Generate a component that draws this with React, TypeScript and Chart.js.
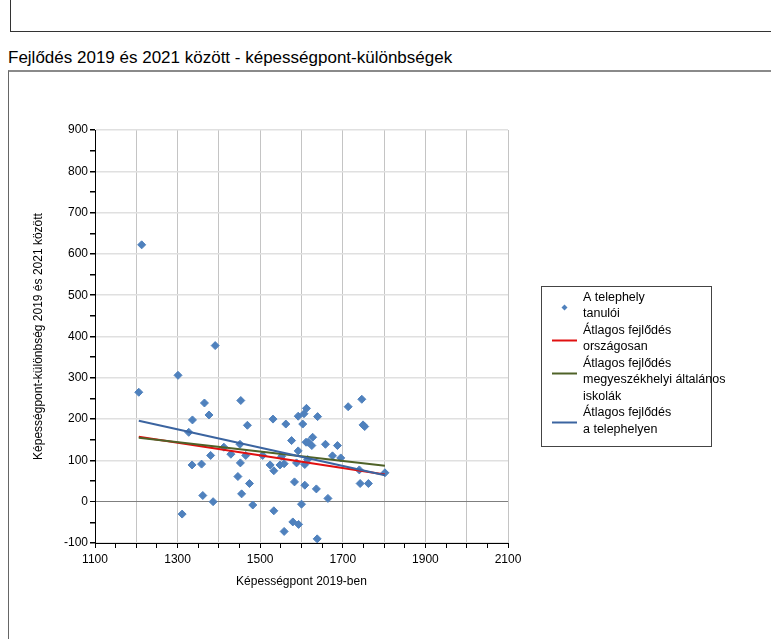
import React, { useEffect, useRef } from "react";
import { Chart, registerables } from "chart.js";

Chart.register(...registerables);

// ---- data ----
const studentX = [
  1213, 1206, 1301, 1391, 1365, 1376, 1453, 1336, 1327, 1469,
  1412, 1451, 1380, 1429, 1465, 1335, 1358, 1452, 1446, 1474,
  1455, 1361, 1386, 1482, 1311, 1533, 1558, 1579, 1593, 1600,
  1608, 1583, 1524, 1533, 1548, 1558, 1588, 1608, 1592, 1576,
  1611, 1616, 1531, 1562, 1592, 1603, 1606, 1612, 1639, 1627,
  1625, 1636, 1664, 1638, 1658, 1687, 1675, 1695, 1713, 1746,
  1749, 1753, 1742, 1762, 1740, 1802, 1506, 1552, 1615,
];
const studentY = [
  622, 265, 306, 378, 239, 210, 245, 198, 168, 185,
  132, 139, 112, 115, 112, 89, 91, 94, 61, 44,
  19, 15, 0, -8, -30, -22, -72, -49, -55, -6,
  40, 48, 89, 75, 89, 92, 94, 90, 123, 148,
  144, 144, 200, 188, 207, 188, 213, 226, 206, 156,
  136, 31, 8, -90, 139, 136, 111, 106, 230, 248,
  186, 182, 44, 44, 77, 70, 112, 110, 102,
];
const trendX = [1206, 1802];
const nationalY = [157, 66];
const countyY = [155, 87];
const siteY = [196, 64];

const xTickLabels = [1100, 1300, 1500, 1700, 1900, 2100];
const yTickLabels = [-100, 0, 100, 200, 300, 400, 500, 600, 700, 800, 900];

const titleText = "Fejlődés 2019 és 2021 között - képességpont-különbségek";
const xAxisTitle = "Képességpont 2019-ben";
const yAxisTitle = "Képességpont-különbség 2019 és 2021 között";

const legendLabels = [
  ["A telephely", "tanulói"],
  ["Átlagos fejlődés", "országosan"],
  ["Átlagos fejlődés", "megyeszékhelyi általános", "iskolák"],
  ["Átlagos fejlődés", "a telephelyen"],
];

const FONT = "'Liberation Sans', Arial, sans-serif";
const POINT_COLOR = "#4f81bd";
const RED = "#e01010";
const GREEN = "#4f6228";
const BLUE = "#3b64a0";
const legendColors = [POINT_COLOR, RED, GREEN, BLUE];

const legendPlugin = {
  id: "customLegend",
  afterDraw(chart: any) {
    const ctx = chart.ctx as CanvasRenderingContext2D;
    ctx.save();
    const left = 541.5;
    const top = 286.5;
    const right = 711.5;
    const bottom = 446.5;
    ctx.strokeStyle = "#444";
    ctx.lineWidth = 1;
    ctx.strokeRect(left, top, right - left, bottom - top);
    ctx.font = `12.5px ${FONT}`;
    ctx.fillStyle = "#000";
    ctx.textBaseline = "middle";
    ctx.textAlign = "left";
    const lh = 16.5;
    let y = 297.5;
    legendLabels.forEach((lines, i) => {
      const symY = Math.round(y + lh / 2 + 1) + 0.5;
      if (i === 0) {
        ctx.fillStyle = legendColors[0];
        ctx.beginPath();
        ctx.moveTo(564.5, symY - 3);
        ctx.lineTo(567.5, symY);
        ctx.lineTo(564.5, symY + 3);
        ctx.lineTo(561.5, symY);
        ctx.closePath();
        ctx.fill();
      } else {
        ctx.strokeStyle = legendColors[i];
        ctx.lineWidth = 2;
        ctx.beginPath();
        ctx.moveTo(552, symY);
        ctx.lineTo(577, symY);
        ctx.stroke();
      }
      ctx.fillStyle = "#000";
      lines.forEach((t) => {
        ctx.fillText(t, 583, y);
        y += lh;
      });
    });
    ctx.restore();
  },
};

function gridColor(ctx: any, vertical: boolean) {
  const v = ctx.tick ? ctx.tick.value : 0;
  if (Math.round(v) % 100 !== 0) return "rgba(0,0,0,0)";
  if (!vertical && v === 0) return "#7f7f7f";
  return vertical ? "#c4c4c4" : "#e0e0e0";
}

export default function App() {
  const canvasRef = useRef<HTMLCanvasElement | null>(null);

  useEffect(() => {
    if (!canvasRef.current) return;
    const pts = studentX.map((x, i) => ({ x, y: studentY[i] }));
    const line = (ys: number[]) => trendX.map((x, i) => ({ x, y: ys[i] }));
    const chart = new Chart(canvasRef.current, {
      type: "scatter",
      data: {
        datasets: [
          {
            label: legendLabels[3].join(" "),
            type: "line",
            data: line(siteY),
            borderColor: BLUE,
            backgroundColor: BLUE,
            borderWidth: 2,
            pointRadius: 0,
            showLine: true,
            order: 0,
          } as any,
          {
            label: legendLabels[2].join(" "),
            type: "line",
            data: line(countyY),
            borderColor: GREEN,
            backgroundColor: GREEN,
            borderWidth: 2,
            pointRadius: 0,
            showLine: true,
            order: 1,
          } as any,
          {
            label: legendLabels[1].join(" "),
            type: "line",
            data: line(nationalY),
            borderColor: RED,
            backgroundColor: RED,
            borderWidth: 2,
            pointRadius: 0,
            showLine: true,
            order: 2,
          } as any,
          {
            label: legendLabels[0].join(" "),
            data: pts,
            pointStyle: "rectRot",
            pointRadius: 4,
            pointBorderWidth: 1,
            pointBackgroundColor: POINT_COLOR,
            pointBorderColor: POINT_COLOR,
            order: 3,
          } as any,
        ],
      },
      options: {
        animation: false,
        responsive: false,
        devicePixelRatio: 1,
        layout: { padding: { left: 27, top: 130, right: 263, bottom: 46 } },
        plugins: {
          legend: { display: false },
          tooltip: { enabled: false },
          title: { display: false },
        },
        scales: {
          x: {
            type: "linear",
            min: 1100,
            max: 2100,
            afterFit: (s: any) => {
              s.height = 50;
            },
            border: { color: "#000", width: 1 },
            grid: {
              color: (c: any) => gridColor(c, true),
              tickColor: "#000",
              tickLength: 5,
              lineWidth: 1,
            },
            ticks: {
              stepSize: 50,
              autoSkip: false,
              maxRotation: 0,
              padding: 4,
              color: "#000",
              font: { family: FONT, size: 12 },
              callback: (v: any) => (xTickLabels.includes(Number(v)) ? String(v) : ""),
            },
            title: {
              display: true,
              text: xAxisTitle,
              color: "#000",
              font: { family: FONT, size: 12 },
            },
          },
          y: {
            type: "linear",
            min: -100,
            max: 900,
            afterFit: (s: any) => {
              s.width = 68;
            },
            border: { color: "#000", width: 1 },
            grid: {
              color: (c: any) => gridColor(c, false),
              tickColor: "#000",
              tickLength: 5,
              lineWidth: (c: any) => (c.tick && c.tick.value === 0 ? 1 : 1.5),
            },
            ticks: {
              stepSize: 50,
              autoSkip: false,
              padding: 2,
              color: "#000",
              font: { family: FONT, size: 12 },
              callback: (v: any) => (yTickLabels.includes(Number(v)) ? String(v) : ""),
            },
            title: {
              display: true,
              text: yAxisTitle,
              color: "#000",
              font: { family: FONT, size: 12 },
            },
          },
        },
      } as any,
      plugins: [legendPlugin],
    });
    return () => chart.destroy();
  }, []);

  return (
    <div
      style={{
        position: "fixed",
        left: 0,
        top: 0,
        width: 771,
        height: 639,
        overflow: "hidden",
        background: "#fff",
        fontFamily: FONT,
      }}
    >
      <div
        style={{
          position: "absolute",
          left: 10,
          top: -2,
          width: 800,
          height: 33,
          borderLeft: "1px solid #333",
          borderBottom: "1px solid #333",
        }}
      />
      <div
        style={{
          position: "absolute",
          left: 8,
          top: 48,
          fontSize: 17,
          lineHeight: "20px",
          color: "#000",
          whiteSpace: "nowrap",
        }}
      >
        {titleText}
      </div>
      <div
        style={{
          position: "absolute",
          left: 8,
          top: 70,
          width: 800,
          height: 600,
          borderTop: "2px solid #8a8a8a",
          borderLeft: "1px solid #666",
        }}
      />
      <canvas
        ref={canvasRef}
        width={771}
        height={639}
        style={{ position: "absolute", left: 0, top: 0, width: 771, height: 639 }}
      />
    </div>
  );
}
